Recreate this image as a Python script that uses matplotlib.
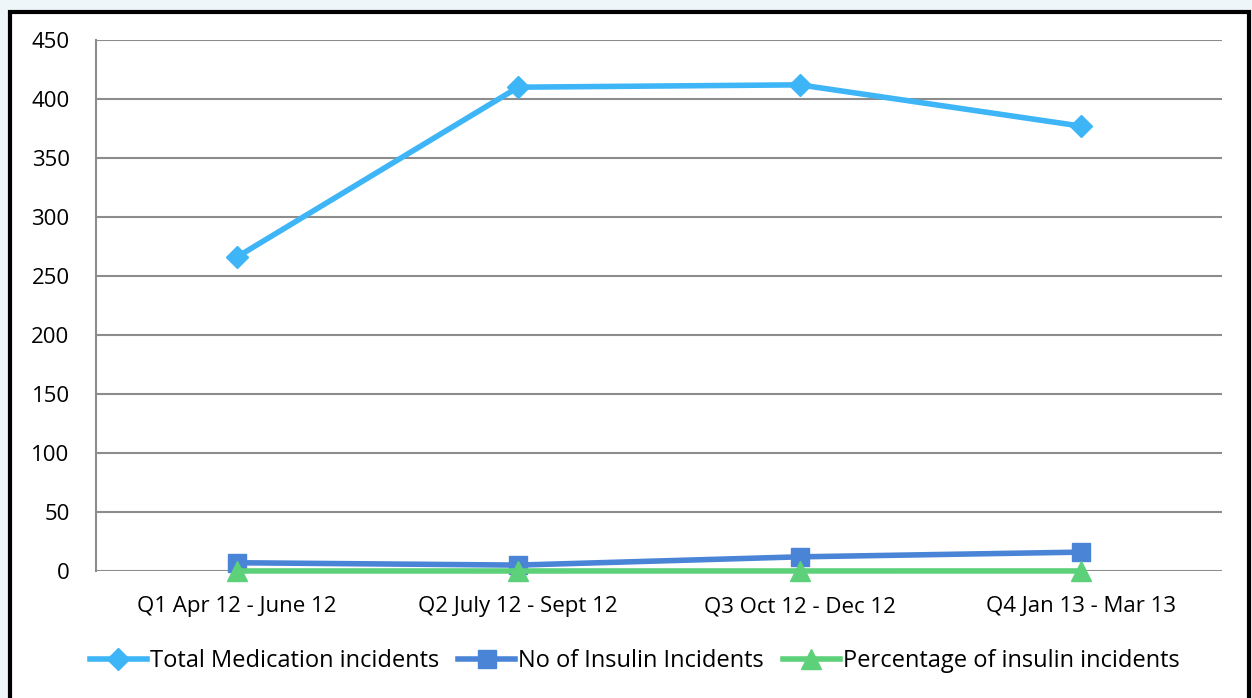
import matplotlib
matplotlib.use("Agg")
import matplotlib.pyplot as plt
from matplotlib.patches import Rectangle

categories = ["Q1 Apr 12 - June 12", "Q2 July 12 - Sept 12",
              "Q3 Oct 12 - Dec 12", "Q4 Jan 13 - Mar 13"]
total_incidents = [266, 410, 412, 377]
insulin_incidents = [7, 5, 12, 16]
insulin_pct = [0.03, 0.01, 0.03, 0.04]

plt.rcParams["font.family"] = ["Open Sans", "DejaVu Sans"]

W, H = 1252, 698
fig = plt.figure(figsize=(W / 100, H / 100), dpi=100)
fig.patch.set_facecolor("#EEF6FA")

# white chart area with black frame
frame = Rectangle((10 / W, -0.05), (1239 / W), 1.05 - 12 / H,
                  transform=fig.transFigure, facecolor="white",
                  edgecolor="black", linewidth=3, zorder=-10)
fig.patches.append(frame)

ax = fig.add_axes([96 / W, 1 - 571 / H, (1222 - 96) / W, (571 - 40) / H])
ax.set_facecolor("none")

x = range(len(categories))
ax.plot(x, total_incidents, color="#3DB5F7", linewidth=4, marker="D",
        markersize=11, label="Total Medication incidents", zorder=3)
ax.plot(x, insulin_incidents, color="#4A84D6", linewidth=4, marker="s",
        markersize=13, label="No of Insulin Incidents", zorder=4)
ax.plot(x, insulin_pct, color="#5DD17A", linewidth=4, marker="^",
        markersize=14, label="Percentage of insulin incidents", zorder=5)

ax.set_xlim(-0.5, 3.5)
ax.set_ylim(0, 450)
ax.set_yticks(range(0, 451, 50))
ax.set_xticks(list(x))
ax.set_xticklabels(categories)
ax.yaxis.grid(True, color="#8C8C8C", linewidth=1.5)
ax.set_axisbelow(True)
for side in ["top", "right", "bottom"]:
    ax.spines[side].set_visible(False)
ax.spines["left"].set_color("#8C8C8C")
ax.spines["left"].set_linewidth(1.5)
ax.tick_params(axis="both", length=0, labelsize=16, colors="black")
ax.tick_params(axis="y", pad=19)
ax.tick_params(axis="x", pad=18)
for line in ax.lines:
    line.set_clip_on(False)

fig.legend(loc="center", bbox_to_anchor=(635 / W, 1 - 661 / H), ncol=3,
           frameon=False, fontsize=17, handlelength=2.4, handletextpad=0.15,
           columnspacing=0.8)

fig.savefig("out.png", dpi=100, facecolor=fig.get_facecolor())
